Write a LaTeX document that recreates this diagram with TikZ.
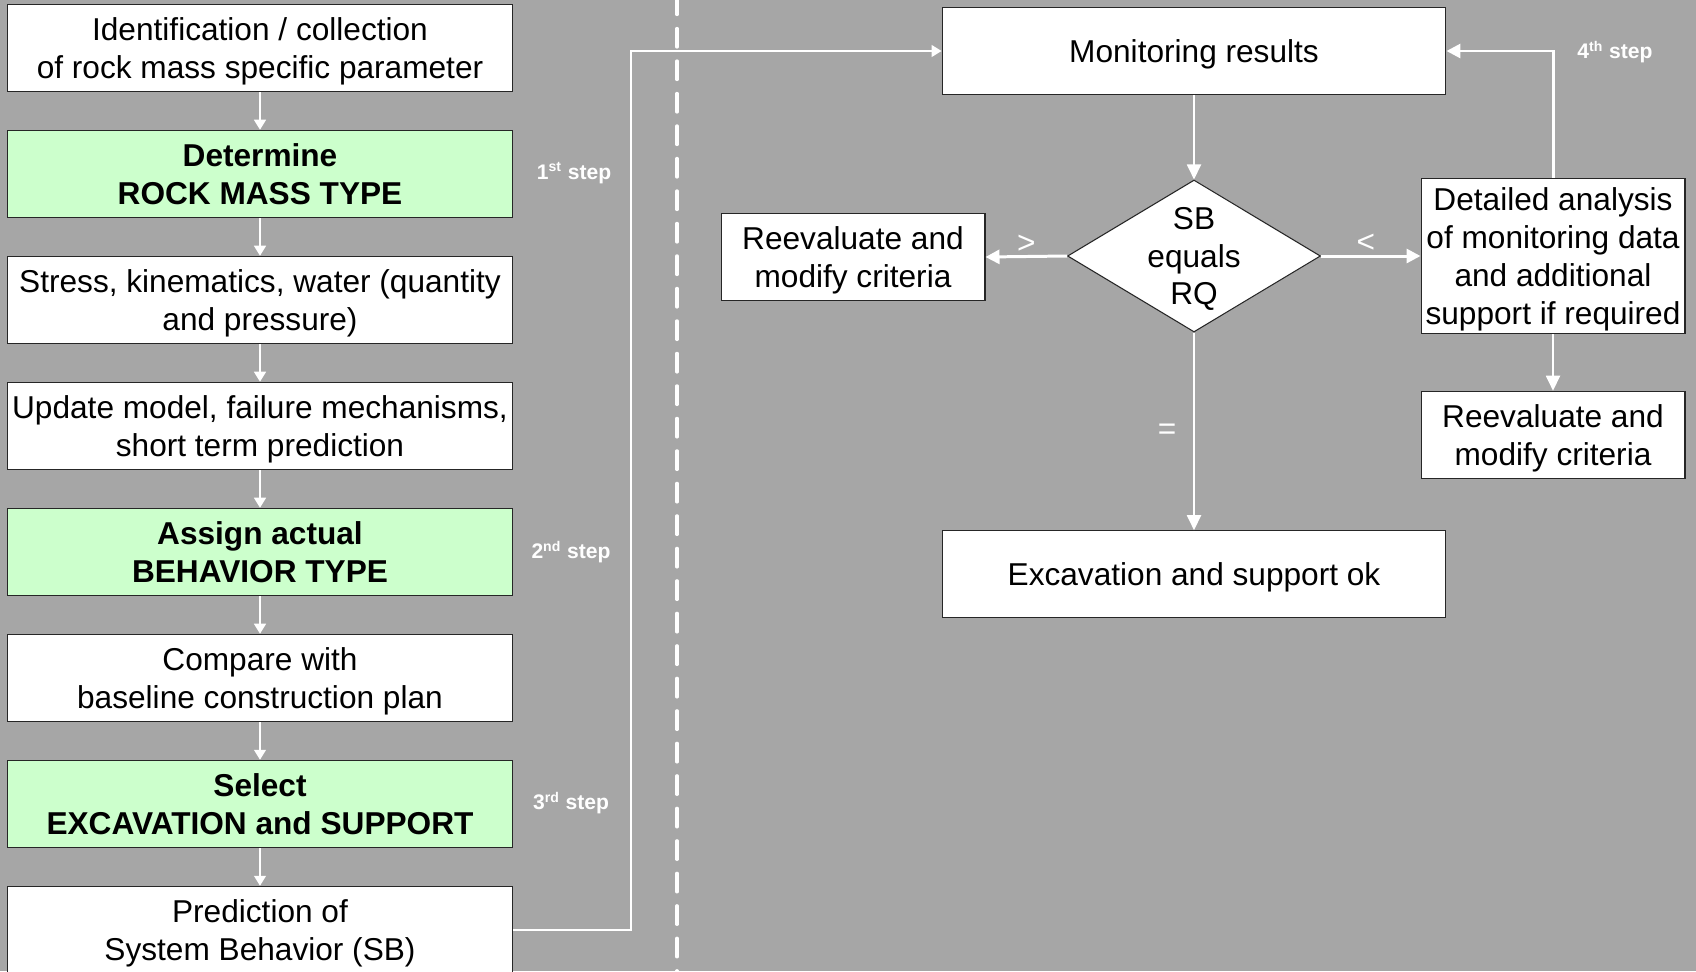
\documentclass[tikz,border=0pt]{standalone}
\usepackage{fontspec}
\setmainfont{Liberation Sans}
\usetikzlibrary{shapes.geometric,arrows.meta}

\definecolor{bggray}{RGB}{166,166,166}
\definecolor{stepgreen}{RGB}{204,255,204}

\newcommand{\boxpitch}{126}
\newcommand{\colx}{260}
\newcommand{\rightx}{1194}

\begin{document}
\begin{tikzpicture}[x=0.02cm, y=-0.02cm,
    every node/.style={font=\fontsize{18}{21.5}\selectfont},
    box/.style={draw=black!85, line width=0.6pt, fill=white, align=center, inner sep=0pt,
                text depth=0pt, minimum width=10.1cm, minimum height=1.75cm},
    greenbox/.style={box, fill=stepgreen, font=\fontsize{18}{21.5}\selectfont\bfseries},
    smallbox/.style={box, minimum width=5.28cm},
    decision/.style={diamond, draw=black!85, line width=0.6pt, fill=white, inner sep=0pt,
                     minimum width=5.06cm, minimum height=3.04cm},
    steplabel/.style={text=white, font=\fontsize{12}{14}\selectfont\bfseries},
    signlabel/.style={text=white, inner sep=1pt},
    thinarrow/.style={draw=white, line width=0.8pt, -{Triangle[width=0.24cm, length=0.2cm]}},
    midarrow/.style={draw=white, line width=1.1pt, -{Triangle[width=0.28cm, length=0.3cm]}},
    thickarrow/.style={draw=white, line width=1.7pt, -{Triangle[width=0.28cm, length=0.28cm]}}]

    \useasboundingbox (0,0) rectangle (1696,971);
    \clip (0,0) rectangle (1696,971);
    \fill[bggray] (0,0) rectangle (1696,971);

    % Divider.
    \draw[white, line width=1.9pt, line cap=round, dash pattern=on 0.37cm off 0.28cm]
        (677,-4) -- (677,980);

    % Left column.
    \node[box]      (ident)    at (\colx, 48+0*\boxpitch) {Identification / collection\\of rock mass specific parameter};
    \node[greenbox] (rocktype) at (\colx, 48+1*\boxpitch) {Determine\\ROCK MASS TYPE};
    \node[box]      (stress)   at (\colx, 48+2*\boxpitch) {Stress, kinematics, water (quantity\\and pressure)};
    \node[box]      (update)   at (\colx, 48+3*\boxpitch) {Update model, failure mechanisms,\\short term prediction};
    \node[greenbox] (behavior) at (\colx, 48+4*\boxpitch) {Assign actual\\BEHAVIOR TYPE};
    \node[box]      (compare)  at (\colx, 48+5*\boxpitch) {Compare with\\baseline construction plan};
    \node[greenbox] (select)   at (\colx, 48+6*\boxpitch) {Select\\EXCAVATION and SUPPORT};
    \node[box]      (predict)  at (\colx, 48+7*\boxpitch) {Prediction of\\System Behavior (SB)};

    % Steps.
    \node[steplabel] (step1) at (574,173) {1\textsuperscript{st} step};
    \node[steplabel] (step2) at (571,552) {2\textsuperscript{nd} step};
    \node[steplabel] (step3) at (571,803) {3\textsuperscript{rd} step};
    \node[steplabel] (step4) at (1615,52) {4\textsuperscript{th} step};

    % Right part.
    \node[box, minimum width=10.08cm, minimum height=1.73cm] (monitor) at (\rightx,51) {Monitoring results};
    \node[decision] (check) at (\rightx,256) {};
    \node[align=center, inner sep=0pt, text depth=0pt] (checktext) at (check) {SB\\equals\\RQ};
    \node[smallbox] (reevalleft) at (853,257) {Reevaluate and\\modify criteria};
    \node[smallbox, minimum height=3.11cm] (detail) at (1553,256) {Detailed analysis\\of monitoring data\\and additional\\support if required};
    \node[smallbox] (reevalright) at (1553,435) {Reevaluate and\\modify criteria};
    \node[box, minimum width=10.08cm, minimum height=1.73cm] (excav) at (\rightx,574) {Excavation and support ok};

    % Arrows down the left column.
    \foreach \a/\b in {ident/rocktype, rocktype/stress, stress/update, update/behavior,
                       behavior/compare, compare/select, select/predict}
        \draw[thinarrow] (\a) -- (\b);

    % Arrows on the right.
    \coordinate (jog) at (631,51);
    \draw[thinarrow] (predict.east) -| (jog) -- (monitor.west);
    \draw[midarrow] (monitor) -- (check);
    \draw[thickarrow] (check.west) -- (reevalleft.east) node[signlabel, midway, above] {>};
    \draw[thickarrow] (check.east) -- (detail.west) node[signlabel, pos=0.45, above] {<};
    \draw[midarrow] (check.south) -- (excav.north) node[signlabel, midway, left=0.3cm] {=};
    \draw[thickarrow] (detail.north) |- (monitor.east);
    \draw[midarrow] (detail) -- (reevalright);

\end{tikzpicture}
\end{document}
